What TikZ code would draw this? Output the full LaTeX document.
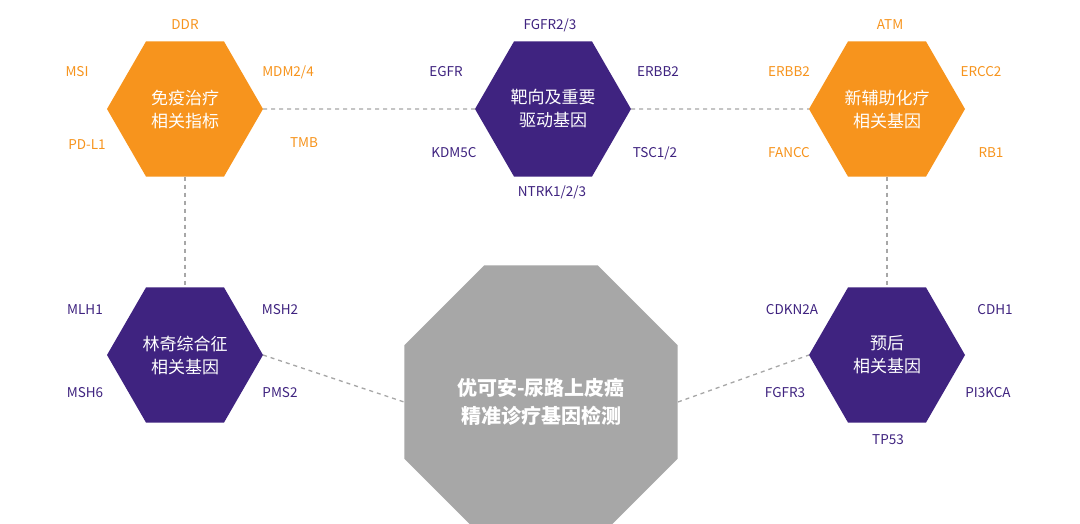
\documentclass[tikz,border=0pt]{standalone}
\usepackage{fontspec}
\setmainfont{Noto Sans CJK SC}
\usetikzlibrary{shapes.geometric}
\definecolor{org}{HTML}{F7941D}
\definecolor{pur}{HTML}{3F2380}
\definecolor{gry}{HTML}{A7A7A7}
\begin{document}
\begin{tikzpicture}[x=1pt,y=-1pt,
 hexo/.style={regular polygon,regular polygon sides=6,minimum size=156pt,inner sep=0pt,outer sep=0pt,fill=org,text=white,font=\fontsize{17}{23}\selectfont,align=center},
 hexp/.style={hexo,fill=pur},
 lo/.style={text=org,font=\fontsize{13.5}{15}\selectfont},
 lp/.style={text=pur,font=\fontsize{13.5}{15}\selectfont},
 dl/.style={draw=gry,line width=1.3pt,dash pattern=on 4pt off 4pt}]
\useasboundingbox (0,0) rectangle (1080,524);
\fill[white] (0,0) rectangle (1080,524);
\node[hexo] (o1) at (185,109) {免疫治疗\\相关指标};
\node[hexp] (p1) at (553,109) {靶向及重要\\驱动基因};
\node[hexo] (o2) at (887,109) {新辅助化疗\\相关基因};
\node[hexp] (ly) at (185,355) {林奇综合征\\相关基因};
\node[hexp] (pr) at (887,355) {预后\\相关基因};
\node[regular polygon,regular polygon sides=8,minimum size=296pt,inner sep=0pt,fill=gry,text=white,font=\fontsize{20}{28}\selectfont\bfseries,align=center] (oc) at (541,402) {优可安-尿路上皮癌\\精准诊疗基因检测};
\draw[dl] (o1.east) -- (p1.west);
\draw[dl] (p1.east) -- (o2.west);
\draw[dl] (o1.south) -- (ly.north);
\draw[dl] (o2.south) -- (pr.north);
\draw[dl] (ly.east) -- (oc.west);
\draw[dl] (oc.east) -- (pr.west);
\node[lo] (a1) at (185,25) {DDR};
\node[lo] (a2) at (77,72) {MSI};
\node[lo] (a3) at (288,72) {MDM2/4};
\node[lo] (a4) at (87,145) {PD-L1};
\node[lo] (a5) at (304,143) {TMB};
\node[lp] (b1) at (550,25) {FGFR2/3};
\node[lp] (b2) at (446,72) {EGFR};
\node[lp] (b3) at (658,72) {ERBB2};
\node[lp] (b4) at (454,153) {KDM5C};
\node[lp] (b5) at (655,153) {TSC1/2};
\node[lp] (b6) at (552,192) {NTRK1/2/3};
\node[lo] (d1) at (890,25) {ATM};
\node[lo] (d2) at (789,72) {ERBB2};
\node[lo] (d3) at (981,72) {ERCC2};
\node[lo] (d4) at (789,153) {FANCC};
\node[lo] (d5) at (991,153) {RB1};
\node[lp] (e1) at (85,310) {MLH1};
\node[lp] (e2) at (280,310) {MSH2};
\node[lp] (e3) at (85,393) {MSH6};
\node[lp] (e4) at (280,393) {PMS2};
\node[lp] (f1) at (792,310) {CDKN2A};
\node[lp] (f2) at (995,310) {CDH1};
\node[lp] (f3) at (785,393) {FGFR3};
\node[lp] (f4) at (988,393) {PI3KCA};
\node[lp] (f5) at (888,440) {TP53};
\end{tikzpicture}
\end{document}
